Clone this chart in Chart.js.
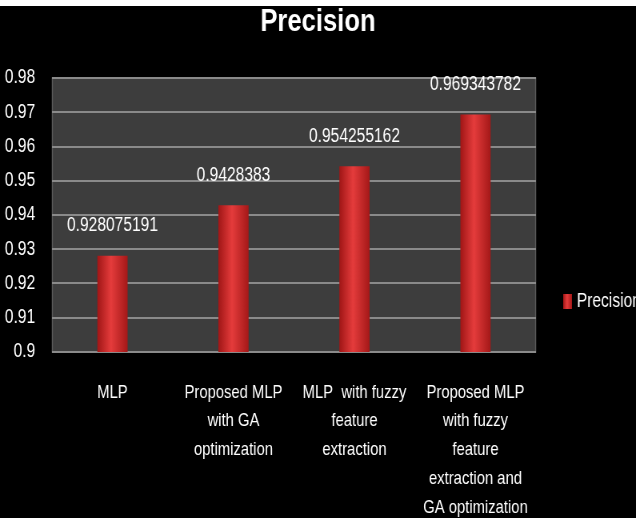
<!DOCTYPE html>
<html>
<head>
<meta charset="utf-8">
<script src="https://cdn.jsdelivr.net/npm/chart.js@4"></script>
<style>
  html, body { margin: 0; padding: 0; background: #000; overflow: hidden; }
  #strip { height: 6px; background: #fff; }
  /* the reference is a horizontally squeezed picture, so draw wide and squeeze */
  #wrap { position: relative; width: 795px; height: 512px; transform: scaleX(0.8); transform-origin: 0 0; }
</style>
</head>
<body>
<div id="strip"></div>
<div id="wrap"><canvas id="myChart-precision"></canvas></div>
<script>
const categories = [
  ["MLP"],
  ["Proposed MLP", "with GA", "optimization"],
  ["MLP  with fuzzy", "feature", "extraction"],
  ["Proposed MLP", "with fuzzy", "feature", "extraction and", "GA optimization"],
];
const precision = [0.928075191, 0.9428383, 0.954255162, 0.969343782];
const yTicks = ["0.9", "0.91", "0.92", "0.93", "0.94", "0.95", "0.96", "0.97", "0.98"];

const FONT = '"Liberation Sans", Arial, sans-serif';
Chart.defaults.font.family = FONT;
Chart.defaults.color = "#fff";

const redStops = (g) => {
  g.addColorStop(0, "#a01616");
  g.addColorStop(0.45, "#e53c3c");
  g.addColorStop(1, "#a41818");
  return g;
};

const barGradient = (ctx) => {
  const chart = ctx.chart;
  const x = chart.scales.x;
  if (!chart.chartArea || !x || ctx.dataIndex === undefined) return "#d02828";
  const cx = x.getPixelForValue(ctx.dataIndex);
  const half = x.width / categories.length * 0.25 / 2;
  return redStops(chart.ctx.createLinearGradient(cx - half, 0, cx + half, 0));
};

const plotBackground = {
  id: "plotBackground",
  beforeDraw(chart) {
    const { ctx, chartArea: a } = chart;
    ctx.save();
    ctx.fillStyle = "#3d3d3d";
    ctx.fillRect(a.left, a.top, a.width, a.height);
    ctx.strokeStyle = "#5a5a5a";
    ctx.lineWidth = 1.5;
    ctx.strokeRect(a.left + 0.5, a.top, a.width - 1, a.height);
    ctx.restore();
  },
};

const valueLabels = {
  id: "valueLabels",
  afterDatasetsDraw(chart) {
    const { ctx } = chart;
    const meta = chart.getDatasetMeta(0);
    ctx.save();
    ctx.fillStyle = "#fff";
    ctx.font = "19.5px " + FONT;
    ctx.textAlign = "center";
    ctx.textBaseline = "middle";
    meta.data.forEach((bar, i) => {
      ctx.fillText(String(chart.data.datasets[0].data[i]), bar.x, bar.y - 30);
    });
    ctx.restore();
  },
};

const sideLegend = {
  id: "sideLegend",
  afterDraw(chart) {
    const { ctx, chartArea: a } = chart;
    const x = a.right + 34;
    const y = a.top + 223;
    ctx.save();
    ctx.fillStyle = redStops(ctx.createLinearGradient(x, 0, x + 11, 0));
    ctx.fillRect(x, y - 7, 11, 15);
    ctx.fillStyle = "#fff";
    ctx.font = "19.5px " + FONT;
    ctx.textBaseline = "middle";
    ctx.fillText(chart.data.datasets[0].label, x + 17, y + 1);
    ctx.restore();
  },
};

new Chart(document.getElementById("myChart-precision"), {
  type: "bar",
  data: {
    labels: categories,
    datasets: [
      {
        label: "Precision",
        data: precision,
        backgroundColor: barGradient,
        borderWidth: 0,
        barPercentage: 0.5,
        categoryPercentage: 0.5,
      },
    ],
  },
  options: {
    responsive: true,
    maintainAspectRatio: false,
    animation: false,
    layout: { padding: 0 },
    plugins: {
      legend: { display: false },
      tooltip: { enabled: false },
      title: {
        display: true,
        text: "Precision",
        color: "#fff",
        font: { size: 32, weight: "bold", lineHeight: 1 },
        padding: { top: 0, bottom: 40 },
      },
    },
    scales: {
      x: {
        grid: { display: false, drawTicks: false },
        border: { display: false },
        ticks: {
          color: "#fff",
          font: { size: 18.5, lineHeight: 1.56 },
          padding: 26,
          maxRotation: 0,
          autoSkip: false,
        },
        afterFit(scale) { scale.height = 166; },
      },
      y: {
        min: 0.9,
        max: 0.98,
        grid: { color: "#8a8a8a", lineWidth: 2, drawTicks: false },
        border: { display: false },
        ticks: {
          stepSize: 0.01,
          color: "#fff",
          font: { size: 19.5 },
          padding: 21,
          callback: (v, i) => yTicks[i],
        },
        afterFit(scale) { scale.width = 65; },
      },
      // empty right-hand axis that only keeps room for the legend
      side: {
        position: "right",
        grid: { display: false, drawTicks: false },
        border: { display: false },
        ticks: { display: false },
        afterFit(scale) { scale.width = 125; },
      },
    },
  },
  plugins: [plotBackground, valueLabels, sideLegend],
});
</script>
</body>
</html>
